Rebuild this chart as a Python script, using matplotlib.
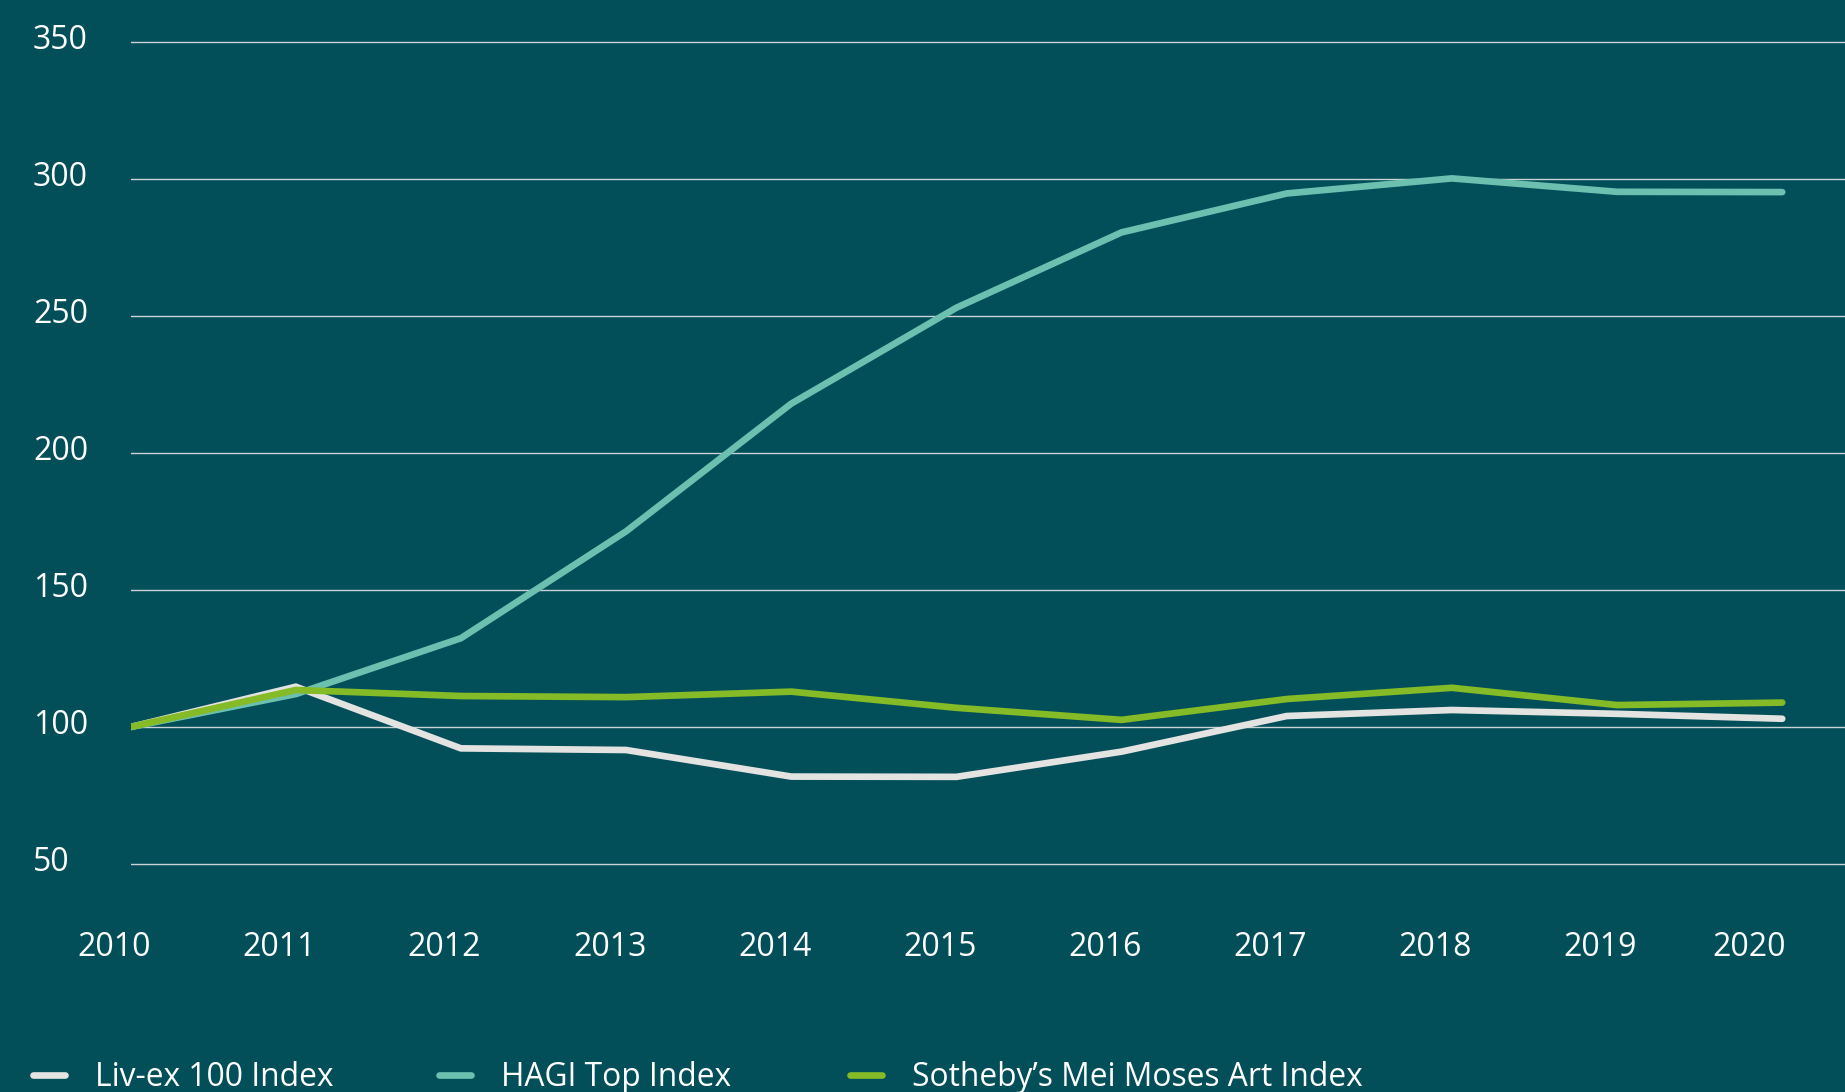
import matplotlib
matplotlib.use("Agg")
import matplotlib.pyplot as plt
import matplotlib.transforms as mtransforms

years = [2010, 2011, 2012, 2013, 2014, 2015, 2016, 2017, 2018, 2019, 2020]
year_labels = ["2010", "2011", "2012", "2013", "2014", "2015", "2016", "2017", "2018", "2019", "2020"]
livex = [100, 114.7, 92.2, 91.6, 81.9, 81.8, 91.0, 104.0, 106.2, 104.8, 103.0]
hagi = [100, 112.0, 132.4, 171.4, 218.0, 253.0, 280.5, 294.7, 300.2, 295.3, 295.2]
sothebys = [100, 113.5, 111.3, 110.9, 112.9, 107.0, 102.6, 110.2, 114.3, 108.0, 108.9]
series_names = ["Liv-ex 100 Index", "HAGI Top Index", "Sotheby\u2019s Mei Moses Art Index"]
yticks = [50, 100, 150, 200, 250, 300, 350]

BG = "#034F59"
COLORS = ["#E3E3E1", "#6CC0B0", "#84BB26"]
FONT = ["Open Sans", "DejaVu Sans"]
plt.rcParams["font.family"] = FONT
FS = 23

W, H = 1845, 1092
fig = plt.figure(figsize=(W / 100, H / 100), dpi=100, facecolor=BG)

left_px = 130.6
bottom_px = 877.7  # from top
ax = fig.add_axes([left_px / W, (H - bottom_px) / H, 1 - left_px / W, bottom_px / H])
ax.set_facecolor(BG)
for s in ax.spines.values():
    s.set_visible(False)

ax.set_yticks(yticks)
ax.set_yticklabels([])
ax.set_xticks([])
ax.tick_params(axis="both", length=0)
ax.grid(axis="y", color="#C9D3D5", linewidth=1.0)
ax.grid(axis="x", visible=False)
ax.set_axisbelow(True)

lines = []
for vals, col, name in zip([livex, hagi, sothebys], COLORS, series_names):
    (ln,) = ax.plot(years, vals, color=col, lw=4.8, solid_capstyle="round",
                    solid_joinstyle="miter", label=name)
    lines.append(ln)

ax.set_xlim(2010, 2020.38)
ax.set_ylim(45, 365.3)

# x labels (shifted slightly left as in reference)
label_pos = [y - 0.1 for y in years]
label_pos[-1] -= 0.1
xtrans = mtransforms.blended_transform_factory(ax.transData, ax.transAxes)
xoff = mtransforms.ScaledTranslation(0, -52.8 / 100, fig.dpi_scale_trans)
for p, lab in zip(label_pos, year_labels):
    ax.text(p, 0, lab, transform=xtrans + xoff, ha="center", va="top",
            color="white", fontsize=FS, clip_on=False)

# y labels, left-aligned at figure left
trans = mtransforms.blended_transform_factory(ax.transAxes, ax.transData)
off = mtransforms.ScaledTranslation(0, 1.5 / 100, fig.dpi_scale_trans)
for v in yticks:
    ax.text((33 - left_px) / (W - left_px), v, str(v), transform=trans + off,
            ha="left", va="center", color="white", fontsize=FS, clip_on=False)

# legend entries
legend_x = [33, 439, 850]
for ln, lx in zip(lines, legend_x):
    leg = fig.legend(handles=[ln], loc="center left",
                     bbox_to_anchor=(lx / W, (H - 1077.5) / H),
                     frameon=False, fontsize=22.9, handlelength=1.0,
                     handletextpad=0.95, borderpad=0, borderaxespad=0)
    for t in leg.get_texts():
        t.set_color("white")

fig.savefig("out.png", dpi=100, facecolor=BG)
